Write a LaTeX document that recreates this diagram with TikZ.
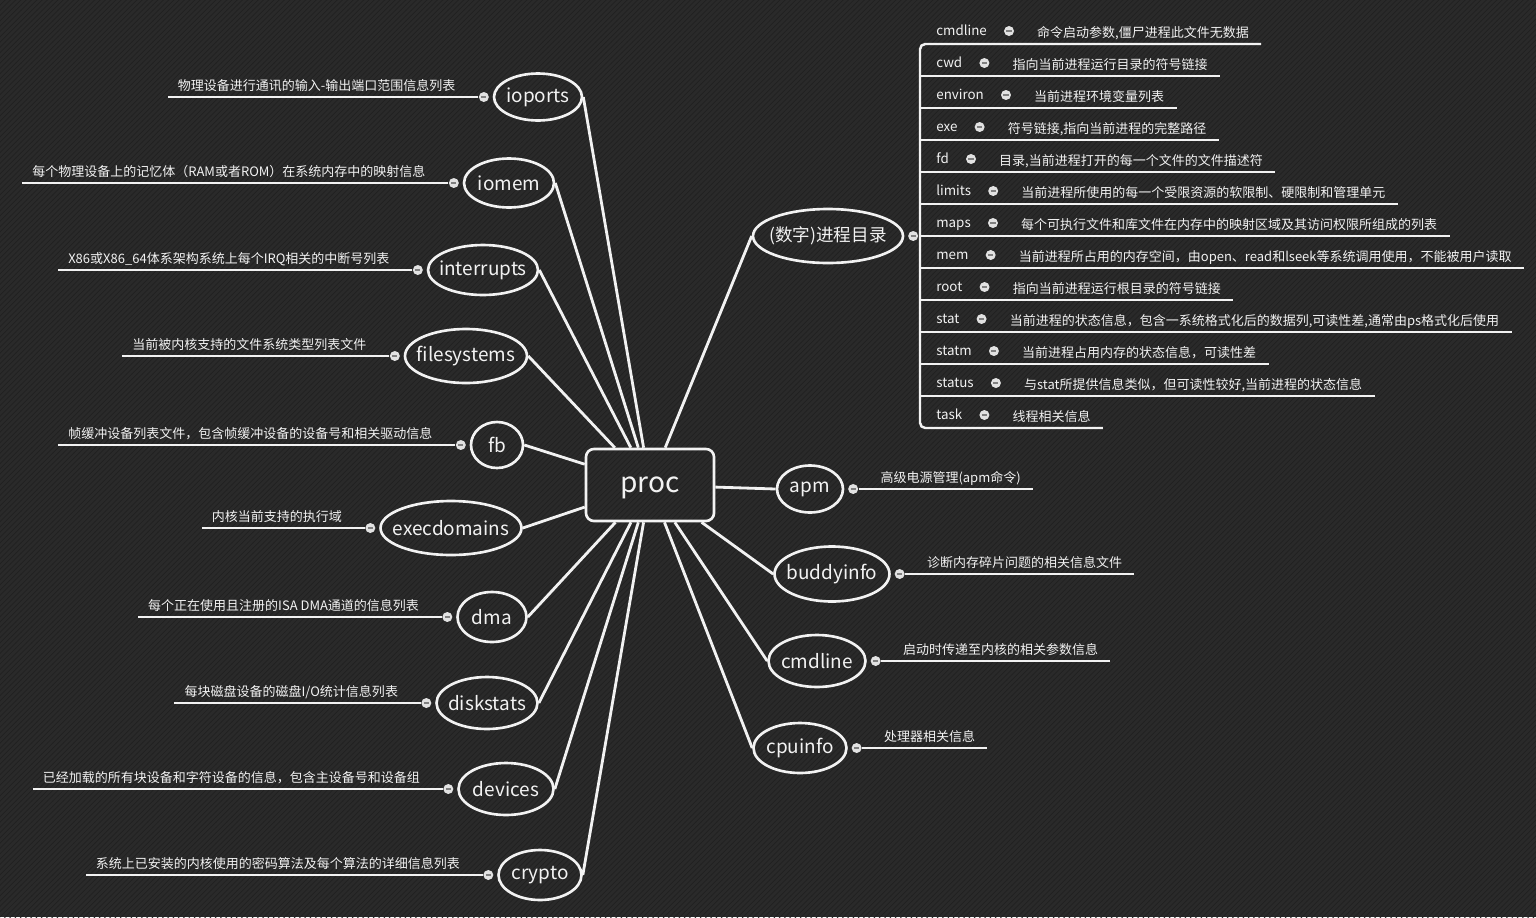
\documentclass[tikz,border=0pt]{standalone}
\usepackage{fontspec}
\setmainfont{Noto Sans CJK SC}
\usepackage{tikz}
\usetikzlibrary{shapes.geometric,positioning,calc,patterns}
\definecolor{bgdark}{RGB}{42,42,42}
\definecolor{stripe}{RGB}{33,33,33}
\definecolor{linewhite}{RGB}{242,242,242}
\definecolor{dotgray}{RGB}{226,226,226}

\tikzset{
  hub/.style={draw=linewhite, line width=1.5pt, rounded corners=4.5pt, minimum width=2.56cm, minimum height=1.44cm, text=linewhite, font=\fontsize{16}{19}\selectfont, text height=0.3em, text depth=0pt},
  leaf/.style={ellipse, draw=linewhite, line width=1.5pt, inner sep=0pt, text=linewhite, font=\fontsize{10.8}{13}\selectfont},
  twig/.style={draw=linewhite, line width=1.6pt},
  bar/.style={draw=linewhite, line width=1.4pt},
  knob/.style={circle, fill=dotgray, inner sep=0pt, minimum size=0.2cm, path picture={\draw[gray, line width=0.7pt] ([xshift=1.4pt]path picture bounding box.west) -- ([xshift=-1.4pt]path picture bounding box.east);}},
  info/.style={text=linewhite, inner sep=0pt, font=\fontsize{7.4}{9}\selectfont, text height=0.88em, text depth=0.12em},
  fname/.style={text=linewhite, inner sep=0pt, font=\fontsize{7.6}{9}\selectfont, text height=0.75em, text depth=0.2em},
}

\begin{document}
\begin{tikzpicture}[x=0.02cm, y=-0.02cm]
                %Background
                \fill[bgdark] (0,0) rectangle (1536,917);
                \fill[pattern=north east lines, pattern color=stripe] (0,0) rectangle (1536,917);
                \useasboundingbox (0,0) rectangle (1536,917);
                %Center
                \node[hub] (proc) at (650,485) {\raisebox{-0.1cm}{proc}};
                %Left leaves
                \node[leaf, minimum width=1.76cm, minimum height=0.94cm] (ioports) at (538,97) {\makebox[0pt]{ioports}};
                \node[leaf, minimum width=1.80cm, minimum height=0.98cm] (iomem) at (509,183) {\makebox[0pt]{iomem}};
                \node[leaf, minimum width=2.20cm, minimum height=1.00cm] (intr) at (483,270) {\makebox[0pt]{interrupts}};
                \node[leaf, minimum width=2.44cm, minimum height=1.08cm] (fsys) at (466,356) {\makebox[0pt]{filesystems}};
                \node[leaf, minimum width=1.04cm, minimum height=0.92cm] (fb) at (497,445) {\makebox[0pt]{fb}};
                \node[leaf, minimum width=2.82cm, minimum height=1.08cm] (execd) at (451,528) {\makebox[0pt]{execdomains}};
                \node[leaf, minimum width=1.38cm, minimum height=1.00cm] (dma) at (492,617) {\makebox[0pt]{dma}};
                \node[leaf, minimum width=2.02cm, minimum height=1.04cm] (disk) at (487,703) {\makebox[0pt]{diskstats}};
                \node[leaf, minimum width=1.90cm, minimum height=1.04cm] (dev) at (506,789) {\makebox[0pt]{devices}};
                \node[leaf, minimum width=1.66cm, minimum height=1.00cm] (crypto) at (540,875) {\makebox[0pt]{crypto}};
                %Right leaves
                \node[leaf, minimum width=3.00cm, minimum height=1.08cm, font=\fontsize{10}{12}\selectfont] (pdir) at (828,236) {\makebox[0pt]{(数字)进程目录}};
                \node[leaf, minimum width=1.32cm, minimum height=0.94cm] (apm) at (810,489) {\makebox[0pt]{apm}};
                \node[leaf, minimum width=2.30cm, minimum height=1.10cm] (buddy) at (832,574) {\makebox[0pt]{buddyinfo}};
                \node[leaf, minimum width=1.94cm, minimum height=1.04cm] (cmd) at (817,661) {\makebox[0pt]{cmdline}};
                \node[leaf, minimum width=1.86cm, minimum height=1.00cm] (cpu) at (800,748) {\makebox[0pt]{cpuinfo}};
                %Spokes
                \draw[twig] (ioports.east) -- (proc);
                \draw[twig] (iomem.east) -- (proc);
                \draw[twig] (intr.east) -- (proc);
                \draw[twig] (fsys.east) -- (proc);
                \draw[twig] (fb.east) -- (proc);
                \draw[twig] (execd.east) -- (proc);
                \draw[twig] (dma.east) -- (proc);
                \draw[twig] (disk.east) -- (proc);
                \draw[twig] (dev.east) -- (proc);
                \draw[twig] (crypto.east) -- (proc);
                \draw[twig] (pdir.west) -- (proc);
                \draw[twig] (apm.west) -- (proc);
                \draw[twig] (buddy.west) -- (proc);
                \draw[twig] (cmd.west) -- (proc);
                \draw[twig] (cpu.west) -- (proc);
                %Left notes
                \node[knob, left=0.07cm of ioports] (ioportsK) {};
                \node[knob, left=0.07cm of iomem] (iomemK) {};
                \node[knob, left=0.07cm of intr] (intrK) {};
                \node[knob, left=0.07cm of fsys] (fsysK) {};
                \node[knob, left=0.07cm of fb] (fbK) {};
                \node[knob, left=0.07cm of execd] (execdK) {};
                \node[knob, left=0.07cm of dma] (dmaK) {};
                \node[knob, left=0.07cm of disk] (diskK) {};
                \node[knob, left=0.07cm of dev] (devK) {};
                \node[knob, left=0.07cm of crypto] (cryptoK) {};
                \node[info, anchor=east] (ioportsT) at ($(ioportsK)+(-28,-13)$) {物理设备进行通讯的输入-输出端口范围信息列表};
                \node[info, anchor=east] (iomemT) at ($(iomemK)+(-28,-13)$) {每个物理设备上的记忆体（RAM或者ROM）在系统内存中的映射信息};
                \node[info, anchor=east] (intrT) at ($(intrK)+(-28,-13)$) {X86或X86\_64体系架构系统上每个IRQ相关的中断号列表};
                \node[info, anchor=east] (fsysT) at ($(fsysK)+(-28,-13)$) {当前被内核支持的文件系统类型列表文件};
                \node[info, anchor=east] (fbT) at ($(fbK)+(-28,-13)$) {帧缓冲设备列表文件，包含帧缓冲设备的设备号和相关驱动信息};
                \node[info, anchor=east] (execdT) at ($(execdK)+(-28,-13)$) {内核当前支持的执行域};
                \node[info, anchor=east] (dmaT) at ($(dmaK)+(-28,-13)$) {每个正在使用且注册的ISA DMA通道的信息列表};
                \node[info, anchor=east] (diskT) at ($(diskK)+(-28,-13)$) {每块磁盘设备的磁盘I/O统计信息列表};
                \node[info, anchor=east] (devT) at ($(devK)+(-28,-13)$) {已经加载的所有块设备和字符设备的信息，包含主设备号和设备组};
                \node[info, anchor=east] (cryptoT) at ($(cryptoK)+(-28,-13)$) {系统上已安装的内核使用的密码算法及每个算法的详细信息列表};
                \draw[twig] (ioportsK.west) -- (ioportsT.west |- ioportsK) -- ++(-10,0);
                \draw[twig] (iomemK.west) -- (iomemT.west |- iomemK) -- ++(-10,0);
                \draw[twig] (intrK.west) -- (intrT.west |- intrK) -- ++(-10,0);
                \draw[twig] (fsysK.west) -- (fsysT.west |- fsysK) -- ++(-10,0);
                \draw[twig] (fbK.west) -- (fbT.west |- fbK) -- ++(-10,0);
                \draw[twig] (execdK.west) -- (execdT.west |- execdK) -- ++(-10,0);
                \draw[twig] (dmaK.west) -- (dmaT.west |- dmaK) -- ++(-10,0);
                \draw[twig] (diskK.west) -- (diskT.west |- diskK) -- ++(-10,0);
                \draw[twig] (devK.west) -- (devT.west |- devK) -- ++(-10,0);
                \draw[twig] (cryptoK.west) -- (cryptoT.west |- cryptoK) -- ++(-10,0);
                %Right notes
                \node[knob, right=0.07cm of pdir] (pdirK) {};
                \node[knob, right=0.07cm of apm] (apmK) {};
                \node[knob, right=0.07cm of buddy] (buddyK) {};
                \node[knob, right=0.07cm of cmd] (cmdK) {};
                \node[knob, right=0.07cm of cpu] (cpuK) {};
                \node[info, anchor=west] (apmT) at ($(apmK)+(27,-13)$) {高级电源管理(apm命令)};
                \node[info, anchor=west] (buddyT) at ($(buddyK)+(27,-13)$) {诊断内存碎片问题的相关信息文件};
                \node[info, anchor=west] (cmdT) at ($(cmdK)+(27,-13)$) {启动时传递至内核的相关参数信息};
                \node[info, anchor=west] (cpuT) at ($(cpuK)+(27,-13)$) {处理器相关信息};
                \draw[twig] (apmK.east) -- (apmT.east |- apmK) -- ++(12,0);
                \draw[twig] (buddyK.east) -- (buddyT.east |- buddyK) -- ++(12,0);
                \draw[twig] (cmdK.east) -- (cmdT.east |- cmdK) -- ++(12,0);
                \draw[twig] (cpuK.east) -- (cpuT.east |- cpuK) -- ++(12,0);
                %Process directory entries
                \node[fname, anchor=west] (r1) at (936,31) {cmdline};
                \node[fname, anchor=west] (r2) at (936,63) {cwd};
                \node[fname, anchor=west] (r3) at (936,95) {environ};
                \node[fname, anchor=west] (r4) at (936,127) {exe};
                \node[fname, anchor=west] (r5) at (936,159) {fd};
                \node[fname, anchor=west] (r6) at (936,191) {limits};
                \node[fname, anchor=west] (r7) at (936,223) {maps};
                \node[fname, anchor=west] (r8) at (936,255) {mem};
                \node[fname, anchor=west] (r9) at (936,287) {root};
                \node[fname, anchor=west] (r10) at (936,319) {stat};
                \node[fname, anchor=west] (r11) at (936,351) {statm};
                \node[fname, anchor=west] (r12) at (936,383) {status};
                \node[fname, anchor=west] (r13) at (936,415) {task};
                \node[knob, right=0.33cm of r1] (k1) {};
                \node[knob, right=0.33cm of r2] (k2) {};
                \node[knob, right=0.33cm of r3] (k3) {};
                \node[knob, right=0.33cm of r4] (k4) {};
                \node[knob, right=0.33cm of r5] (k5) {};
                \node[knob, right=0.33cm of r6] (k6) {};
                \node[knob, right=0.33cm of r7] (k7) {};
                \node[knob, right=0.33cm of r8] (k8) {};
                \node[knob, right=0.33cm of r9] (k9) {};
                \node[knob, right=0.33cm of r10] (k10) {};
                \node[knob, right=0.33cm of r11] (k11) {};
                \node[knob, right=0.33cm of r12] (k12) {};
                \node[knob, right=0.33cm of r13] (k13) {};
                \node[info, right=0.45cm of k1] (t1) {命令启动参数,僵尸进程此文件无数据};
                \node[info, right=0.45cm of k2] (t2) {指向当前进程运行目录的符号链接};
                \node[info, right=0.45cm of k3] (t3) {当前进程环境变量列表};
                \node[info, right=0.45cm of k4] (t4) {符号链接,指向当前进程的完整路径};
                \node[info, right=0.45cm of k5] (t5) {目录,当前进程打开的每一个文件的文件描述符};
                \node[info, right=0.45cm of k6] (t6) {当前进程所使用的每一个受限资源的软限制、硬限制和管理单元};
                \node[info, right=0.45cm of k7] (t7) {每个可执行文件和库文件在内存中的映射区域及其访问权限所组成的列表};
                \node[info, right=0.45cm of k8] (t8) {当前进程所占用的内存空间，由open、read和lseek等系统调用使用，不能被用户读取};
                \node[info, right=0.45cm of k9] (t9) {指向当前进程运行根目录的符号链接};
                \node[info, right=0.45cm of k10] (t10) {当前进程的状态信息，包含一系统格式化后的数据列,可读性差,通常由ps格式化后使用};
                \node[info, right=0.45cm of k11] (t11) {当前进程占用内存的状态信息，可读性差};
                \node[info, right=0.45cm of k12] (t12) {与stat所提供信息类似，但可读性较好,当前进程的状态信息};
                \node[info, right=0.45cm of k13] (t13) {线程相关信息};
                %Bracket
                \draw[bar, rounded corners=3pt] ($(t1.east |- 0,44)+(12,0)$) -- (920,44) -- (920,428) -- ($(t13.east |- 0,428)+(12,0)$);
                \draw[bar] (920,76) -- ($(t2.east |- 0,76)+(12,0)$);
                \draw[bar] (920,108) -- ($(t3.east |- 0,108)+(12,0)$);
                \draw[bar] (920,140) -- ($(t4.east |- 0,140)+(12,0)$);
                \draw[bar] (920,172) -- ($(t5.east |- 0,172)+(12,0)$);
                \draw[bar] (920,204) -- ($(t6.east |- 0,204)+(12,0)$);
                \draw[bar] (920,236) -- ($(t7.east |- 0,236)+(12,0)$);
                \draw[bar] (920,268) -- ($(t8.east |- 0,268)+(12,0)$);
                \draw[bar] (920,300) -- ($(t9.east |- 0,300)+(12,0)$);
                \draw[bar] (920,332) -- ($(t10.east |- 0,332)+(12,0)$);
                \draw[bar] (920,364) -- ($(t11.east |- 0,364)+(12,0)$);
                \draw[bar] (920,396) -- ($(t12.east |- 0,396)+(12,0)$);
                \draw[twig] (pdirK.east) -- (920,236);
\end{tikzpicture}
\end{document}
